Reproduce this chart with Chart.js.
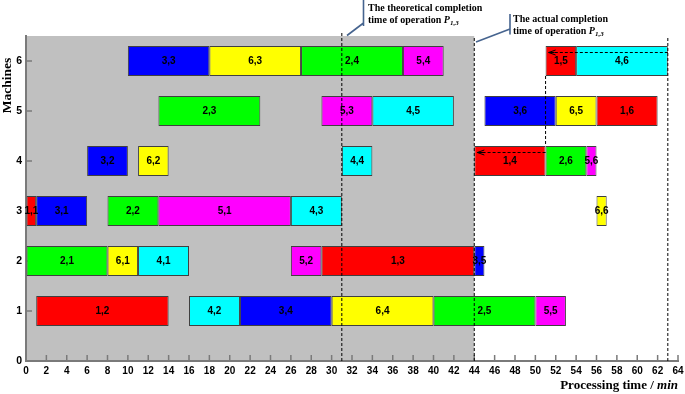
<!DOCTYPE html>
<html><head><meta charset="utf-8">
<script src="https://cdn.jsdelivr.net/npm/chart.js@4"></script>
<style>html,body{margin:0;padding:0;background:#fff}canvas{display:block}</style>
</head><body><canvas id="c" width="685" height="394"></canvas>
<script>
// ---- data ----
const jobNumbers = [1, 2, 3, 4, 5, 6];
const jobColors = ['#ff0000', '#00ff00', '#0000ff', '#00ffff', '#ff00ff', '#ffff00'];
// each operation: [machine, start, end]  (operation k of job j is labelled "j,k")
const job1Ops = [[3, 0, 1], [1, 1, 14], [2, 29, 44], [4, 44, 51], [6, 51, 54], [5, 56, 62]];
const job2Ops = [[2, 0, 8], [3, 8, 13], [5, 13, 23], [6, 27, 37], [1, 40, 50], [4, 51, 55]];
const job3Ops = [[3, 1, 6], [4, 6, 10], [6, 10, 18], [1, 21, 30], [2, 44, 45], [5, 45, 52]];
const job4Ops = [[2, 11, 16], [1, 16, 21], [3, 26, 31], [4, 31, 34], [5, 34, 42], [6, 54, 63]];
const job5Ops = [[3, 13, 26], [2, 26, 29], [5, 29, 34], [6, 37, 41], [1, 50, 53], [4, 55, 56]];
const job6Ops = [[2, 8, 11], [4, 11, 14], [6, 18, 27], [1, 30, 40], [5, 52, 56], [3, 56, 57]];
const allJobOps = [job1Ops, job2Ops, job3Ops, job4Ops, job5Ops, job6Ops];

const xMin = 0, xMax = 64, xStep = 2;
const yMin = 0, yMax = 6.5, yStep = 1;
const shadedUntil = 44;          // grey region (theoretical schedule)
const theoreticalTime = 31;      // theoretical completion of P1,3
const actualTime = 44;           // actual completion of P1,3
const makespanTime = 63;
const shiftArrows = [ {from: 63, to: 51.3, y: 6.17}, {from: 51, to: 44.3, y: 4.17} ];
const shiftLink = {x: 51, yTop: 5.7, yBottom: 4.3};

const xTitle = 'Processing time / ';
const xTitleUnit = 'min';
const yTitle = 'Machines';
const note1 = ['The theoretical completion', 'time of operation '];
const note2 = ['The actual completion', 'time of operation '];
const noteOp = 'P';
const noteSub = '1,3';

// ---- datasets ----
const datasets = allJobOps.map((ops, j) => ({
  label: 'Job ' + jobNumbers[j],
  data: ops.map((o, k) => ({ y: o[0], x: [o[1], o[2]], op: jobNumbers[j] + ',' + (k + 1) })),
  backgroundColor: jobColors[j],
  borderColor: '#404040',
  borderWidth: 1,
  borderSkipped: false,
  grouped: false,
  barPercentage: 0.6,
  categoryPercentage: 1
}));

const SANS = '"Liberation Sans", Arial, sans-serif';
const SERIF = '"Liberation Serif", "Times New Roman", serif';

function dashedLine(ctx, x1, y1, x2, y2) {
  ctx.save();
  ctx.strokeStyle = '#000';
  ctx.lineWidth = 1;
  ctx.setLineDash([3, 2]);
  ctx.beginPath(); ctx.moveTo(x1, y1); ctx.lineTo(x2, y2); ctx.stroke();
  ctx.restore();
}

function drawNote(ctx, lines, x, y0, lh) {
  ctx.save();
  ctx.fillStyle = '#000';
  ctx.textAlign = 'left';
  ctx.textBaseline = 'alphabetic';
  ctx.font = 'bold 10px ' + SERIF;
  ctx.fillText(lines[0], x, y0);
  const y1 = y0 + lh;
  ctx.fillText(lines[1], x, y1);
  let cx = x + ctx.measureText(lines[1]).width;
  ctx.font = 'italic bold 10px ' + SERIF;
  ctx.fillText(noteOp, cx, y1);
  cx += ctx.measureText(noteOp).width;
  ctx.font = 'italic bold 7px ' + SERIF;
  ctx.fillText(noteSub, cx, y1 + 2);
  ctx.restore();
}

const ganttPlugin = {
  id: 'gantt',
  beforeDraw(chart) {
    const {ctx, chartArea: a, scales: {x}} = chart;
    ctx.save();
    ctx.fillStyle = '#fff';
    ctx.fillRect(0, 0, chart.width, chart.height);
    ctx.fillStyle = '#c0c0c0';
    const xr = x.getPixelForValue(shadedUntil);
    ctx.fillRect(a.left, a.top, xr - a.left, a.bottom - a.top);
    ctx.restore();
  },
  beforeDatasetsDraw(chart) {
    const {ctx, chartArea: a, scales: {x, y}} = chart;
    ctx.save();
    ctx.strokeStyle = '#7a7a7a';
    ctx.lineWidth = 1.5;
    x.ticks.forEach(t => {
      if (t.value === xMin) return;
      const px = x.getPixelForValue(t.value);
      ctx.beginPath(); ctx.moveTo(px, a.bottom); ctx.lineTo(px, a.bottom - 6); ctx.stroke();
    });
    y.ticks.forEach(t => {
      if (t.value === yMin) return;
      const py = y.getPixelForValue(t.value);
      ctx.beginPath(); ctx.moveTo(a.left, py); ctx.lineTo(a.left + 6, py); ctx.stroke();
    });
    ctx.restore();
  },
  afterDatasetsDraw(chart) {
    const {ctx, chartArea: a, scales: {x, y}} = chart;
    // operation labels
    ctx.save();
    ctx.fillStyle = '#000';
    ctx.font = 'bold 10px ' + SANS;
    ctx.textAlign = 'center';
    ctx.textBaseline = 'middle';
    chart.data.datasets.forEach((ds, i) => {
      chart.getDatasetMeta(i).data.forEach((bar, k) => {
        ctx.fillText(ds.data[k].op, (bar.x + bar.base) / 2, bar.y + 0.5);
      });
    });
    ctx.restore();

    // dashed reference lines
    dashedLine(ctx, x.getPixelForValue(theoreticalTime), a.top - 3, x.getPixelForValue(theoreticalTime), a.bottom);
    dashedLine(ctx, x.getPixelForValue(actualTime), a.top + 2, x.getPixelForValue(actualTime), a.bottom);
    dashedLine(ctx, x.getPixelForValue(makespanTime), a.top + 2, x.getPixelForValue(makespanTime), a.bottom);
    dashedLine(ctx, x.getPixelForValue(shiftLink.x), y.getPixelForValue(shiftLink.yTop),
                    x.getPixelForValue(shiftLink.x), y.getPixelForValue(shiftLink.yBottom));
    shiftArrows.forEach(ar => {
      const x1 = x.getPixelForValue(ar.from), x2 = x.getPixelForValue(ar.to), py = y.getPixelForValue(ar.y);
      dashedLine(ctx, x1, py, x2 + 3, py);
      ctx.save();
      ctx.strokeStyle = '#000'; ctx.lineWidth = 1;
      ctx.beginPath();
      ctx.moveTo(x2 + 7, py - 2.5); ctx.lineTo(x2, py); ctx.lineTo(x2 + 7, py + 2.5);
      ctx.stroke();
      ctx.beginPath(); ctx.moveTo(x2, py); ctx.lineTo(x2 + 6, py); ctx.stroke();
      ctx.restore();
    });

    // axis titles
    ctx.save();
    ctx.fillStyle = '#000';
    ctx.textBaseline = 'alphabetic';
    ctx.font = 'bold 13px ' + SERIF;
    const w1 = ctx.measureText(xTitle).width;
    ctx.font = 'italic bold 13px ' + SERIF;
    const w2 = ctx.measureText(xTitleUnit).width;
    const xs = 678 - w1 - w2;
    ctx.font = 'bold 13px ' + SERIF;
    ctx.textAlign = 'left';
    ctx.fillText(xTitle, xs, 388.5);
    ctx.font = 'italic bold 13px ' + SERIF;
    ctx.fillText(xTitleUnit, xs + w1, 388.5);
    ctx.translate(10.5, 85.5);
    ctx.rotate(-Math.PI / 2);
    ctx.font = 'bold 13.5px ' + SERIF;
    ctx.textAlign = 'center';
    ctx.fillText(yTitle, 0, 0);
    ctx.restore();

    // annotations
    drawNote(ctx, note1, 368, 10.8, 12);
    drawNote(ctx, note2, 513, 21.5, 12.3);
    ctx.save();
    ctx.strokeStyle = '#46648f';
    ctx.lineWidth = 1.6;
    ctx.beginPath();
    ctx.moveTo(363.5, 0); ctx.lineTo(363.5, 26);
    ctx.moveTo(363.5, 23); ctx.lineTo(347, 35.5);
    ctx.moveTo(510, 14); ctx.lineTo(510, 34.5);
    ctx.moveTo(510, 29); ctx.lineTo(476, 42);
    ctx.stroke();
    ctx.restore();
  }
};

new Chart(document.getElementById('c'), {
  type: 'bar',
  data: { datasets },
  options: {
    indexAxis: 'y',
    responsive: false,
    animation: false,
    devicePixelRatio: 1,
    layout: { padding: { top: 36, right: 7, left: 0, bottom: 0 } },
    plugins: { legend: { display: false }, tooltip: { enabled: false } },
    scales: {
      x: {
        type: 'linear', position: 'bottom', min: xMin, max: xMax, offset: false,
        ticks: { stepSize: xStep, autoSkip: false, maxRotation: 0, color: '#000', padding: 4,
                 font: { family: SANS, size: 10, weight: 'bold' } },
        grid: { drawOnChartArea: false, drawTicks: false },
        border: { display: true, color: '#7a7a7a', width: 2 },
        afterFit(s) { s.height = 33; s.paddingRight = 2; s.paddingLeft = 0; }
      },
      y: {
        type: 'linear', position: 'left', min: yMin, max: yMax, offset: false,
        ticks: { stepSize: yStep, includeBounds: false, color: '#000', padding: 4,
                 font: { family: SANS, size: 10.5, weight: 'bold' } },
        grid: { drawOnChartArea: false, drawTicks: false },
        border: { display: true, color: '#7a7a7a', width: 2 },
        afterFit(s) { s.width = 26; s.paddingTop = 0; s.paddingBottom = 0; }
      }
    }
  },
  plugins: [ganttPlugin]
});
</script>
</body></html>
